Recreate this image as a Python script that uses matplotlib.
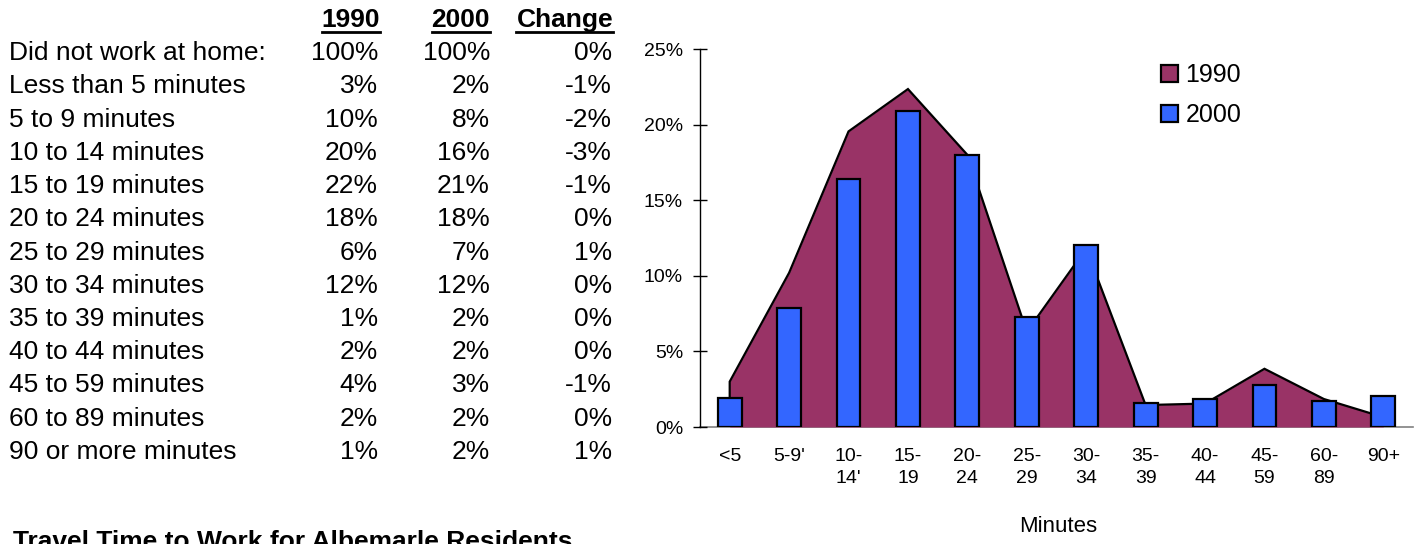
import numpy as np
import matplotlib
matplotlib.use("Agg")
import matplotlib.pyplot as plt
from matplotlib.lines import Line2D

plt.rcParams['font.family'] = ['Liberation Sans', 'DejaVu Sans']

# ---------------- data ----------------
row_labels = ["Did not work at home:", "Less than 5 minutes", "5 to 9 minutes",
              "10 to 14 minutes", "15 to 19 minutes", "20 to 24 minutes",
              "25 to 29 minutes", "30 to 34 minutes", "35 to 39 minutes",
              "40 to 44 minutes", "45 to 59 minutes", "60 to 89 minutes",
              "90 or more minutes"]
table_1990 = [100, 3, 10, 20, 22, 18, 6, 12, 1, 2, 4, 2, 1]
table_2000 = [100, 2, 8, 16, 21, 18, 7, 12, 2, 2, 3, 2, 2]
table_change = [0, -1, -2, -3, -1, 0, 1, 0, 0, 0, -1, 0, 1]
headers = ["1990", "2000", "Change"]

tick_labels = ["<5", "5-9'", "10-\n14'", "15-\n19", "20-\n24", "25-\n29",
               "30-\n34", "35-\n39", "40-\n44", "45-\n59", "60-\n89", "90+"]
pct_1990 = [3.0, 10.2, 19.55, 22.35, 18.0, 6.3, 11.8, 1.45, 1.55, 3.85, 1.85, 0.65]
pct_2000 = [1.92, 7.89, 16.43, 20.87, 18.0, 7.28, 12.02, 1.56, 1.83, 2.76, 1.70, 2.05]

title = "Travel Time to Work for Albemarle Residents"
xlabel = "Minutes"

# ---------------- figure ----------------
W, H = 1416, 544
fig = plt.figure(figsize=(W / 100, H / 100), dpi=100)

def fx(px):
    return px / W

def fy(py):
    return 1 - py / H

# ---- table ----
tfs = 19
row_y0, row_dy = 53.3, 33.2
col_right = [378, 490, 612]
for i, lab in enumerate(row_labels):
    y = fy(row_y0 + i * row_dy)
    fig.text(fx(9), y, lab, fontsize=tfs, ha='left', va='center')
    for cx, vals in zip(col_right, (table_1990, table_2000, table_change)):
        fig.text(fx(cx), y, f"{vals[i]}%", fontsize=tfs, ha='right', va='center')

head_texts = []
for cx, h in zip([380, 490, 613], headers):
    t = fig.text(fx(cx), fy(20), h, fontsize=tfs, fontweight='bold',
                 ha='right', va='center')
    head_texts.append(t)

fig.text(fx(13), fy(549), title, fontsize=tfs, fontweight='bold',
         ha='left', va='baseline')

# ---- chart ----
ax_l, ax_r, ax_b, ax_t = 700, 1413, 427, 49
ax = fig.add_axes([fx(ax_l), fy(ax_b), (ax_r - ax_l) / W, (ax_b - ax_t) / H])
x = np.arange(len(tick_labels))
ax.fill_between(x, 0, pct_1990, color='#993366', lw=0, zorder=1, label='1990')
ax.plot(np.r_[x[0], x], np.r_[0, pct_1990], color='black', lw=1.6,
        solid_joinstyle='miter', zorder=2)
bars = ax.bar(x, pct_2000, width=0.40, color='#3366FF', edgecolor='black',
              linewidth=1.6, zorder=3, label='2000')

ax.set_xlim(-0.5, len(x) - 0.5)
ax.set_ylim(0, 25)
ax.set_yticks([0, 5, 10, 15, 20, 25])
ax.set_yticklabels([f"{v}%" for v in [0, 5, 10, 15, 20, 25]])
ax.set_xticks(x)
ax.set_xticklabels(tick_labels, linespacing=1.39)
ax.tick_params(axis='y', direction='inout', length=9.6, width=1.0,
               colors='black', labelsize=14, pad=7.4)
ax.tick_params(axis='x', length=0, labelsize=14, pad=15)
for s in ['top', 'right']:
    ax.spines[s].set_visible(False)
ax.spines['left'].set_color('black')
ax.spines['left'].set_linewidth(1.0)
ax.spines['bottom'].set_color('#808080')
ax.spines['bottom'].set_linewidth(1.2)
ax.spines['bottom'].set_zorder(0.5)

ax.set_xlabel(xlabel, fontsize=16)
ax.xaxis.set_label_coords(0.502, -0.235)
ax.xaxis.label.set_va('top')

handles, labels = ax.get_legend_handles_labels()
leg = fig.legend(handles, labels, loc='upper left',
                 bbox_to_anchor=(fx(1161), fy(63)), bbox_transform=fig.transFigure,
                 frameon=False, fontsize=18, handlelength=0.68, handleheight=0.68,
                 handletextpad=0.3, labelspacing=0.64, borderpad=0, borderaxespad=0)
for hnd in leg.legend_handles:
    hnd.set_edgecolor('black')
    hnd.set_linewidth(1.6)

# underline headers
fig.canvas.draw()
r = fig.canvas.get_renderer()
for t in head_texts:
    bb = t.get_window_extent(renderer=r)
    fig.add_artist(Line2D([bb.x0 / W, bb.x1 / W], [fy(31.7), fy(31.7)],
                          transform=fig.transFigure, color='black', lw=2.0))

fig.savefig("out.png", dpi=100)
